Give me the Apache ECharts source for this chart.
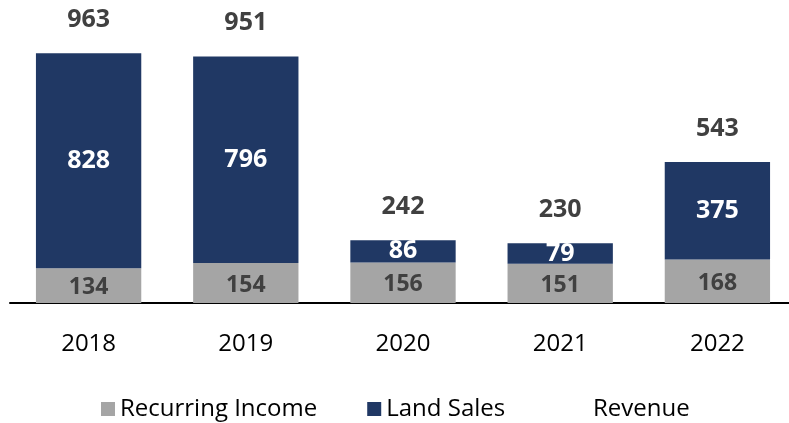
<!DOCTYPE html>
<html>
<head>
<meta charset="utf-8">
<script src="https://cdn.jsdelivr.net/npm/echarts@6/dist/echarts.min.js"></script>
<style>
  html, body { margin: 0; padding: 0; background: #fff; }
  #main { width: 789px; height: 423px; }
</style>
</head>
<body>
<div id="main"></div>
<script>
  // data
  const years = ['2018', '2019', '2020', '2021', '2022'];
  const recurringIncome = [134, 154, 156, 151, 168];
  const landSales = [828, 796, 86, 79, 375];
  const revenue = [963, 951, 242, 230, 543];

  const font = '"Open Sans", "Liberation Sans", sans-serif';
  const legendText = { fontSize: 24, color: '#000', fontFamily: font };

  const chart = echarts.init(document.getElementById('main'));
  chart.setOption({
    animation: false,
    textStyle: { fontFamily: font },
    grid: { left: 10, width: 786, top: 43.4, bottom: 120, outerBoundsMode: 'none' },
    legend: [
      {
        left: 96,
        top: 392,
        itemWidth: 14,
        itemHeight: 14,
        itemGap: 50,
        textStyle: legendText,
        data: [
          { name: 'Recurring Income', icon: 'rect' },
          { name: 'Land Sales', icon: 'rect' }
        ]
      },
      {
        left: 583,
        top: 392,
        itemWidth: 0,
        itemHeight: 14,
        textStyle: legendText,
        data: [{ name: 'Revenue', icon: 'rect', itemStyle: { color: 'rgba(0,0,0,0)' } }]
      }
    ],
    xAxis: {
      type: 'category',
      data: years,
      axisLine: { lineStyle: { color: '#000', width: 2 } },
      axisTick: { show: false },
      axisLabel: { fontSize: 24, color: '#000', margin: 29, fontFamily: font }
    },
    yAxis: {
      type: 'value',
      min: 0,
      max: 1000,
      show: false,
      splitLine: { show: false }
    },
    series: [
      {
        name: 'Recurring Income',
        type: 'bar',
        stack: 'rev',
        barCategoryGap: '33%',
        data: recurringIncome,
        itemStyle: { color: '#a5a5a5' },
        label: {
          show: true,
          position: 'inside',
          offset: [0, 2],
          fontSize: 23,
          fontWeight: 'bold',
          color: '#404040',
          fontFamily: font
        }
      },
      {
        name: 'Land Sales',
        type: 'bar',
        stack: 'rev',
        data: landSales,
        itemStyle: { color: '#203864' },
        label: {
          show: true,
          position: 'inside',
          fontSize: 25,
          fontWeight: 'bold',
          color: '#fff',
          fontFamily: font
        }
      },
      {
        name: 'Revenue',
        type: 'line',
        data: revenue,
        symbol: 'circle',
        symbolSize: 1,
        lineStyle: { opacity: 0 },
        itemStyle: { color: 'rgba(0,0,0,0)' },
        label: {
          show: true,
          position: 'top',
          distance: 20,
          fontSize: 25,
          fontWeight: 'bold',
          color: '#404040',
          fontFamily: font
        }
      }
    ]
  });
</script>
</body>
</html>
